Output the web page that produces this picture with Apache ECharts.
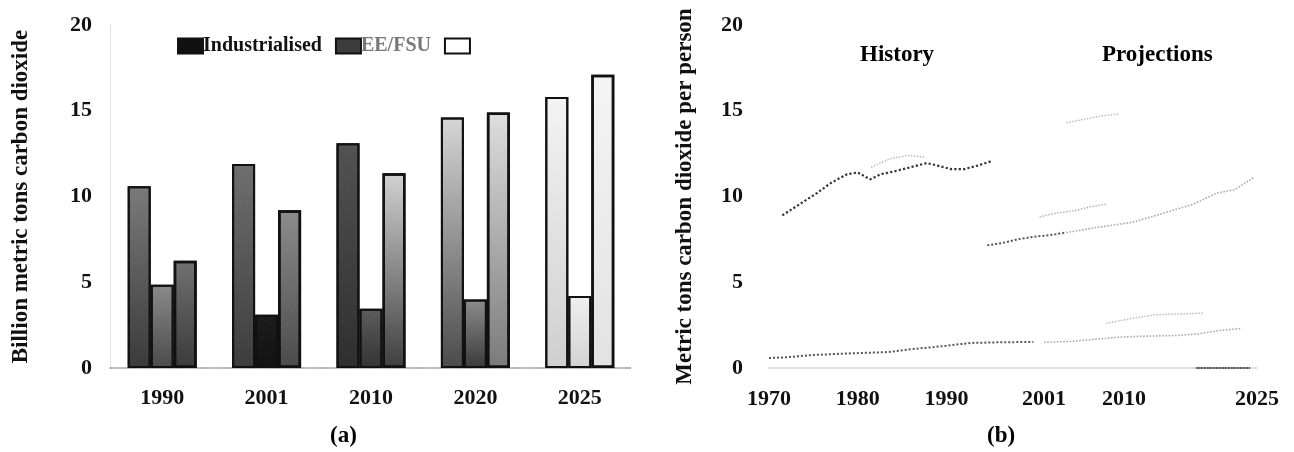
<!DOCTYPE html>
<html><head><meta charset="utf-8">
<script src="https://cdn.jsdelivr.net/npm/echarts@6/dist/echarts.min.js"></script>
<style>html,body{margin:0;padding:0;background:#fff}#c{width:1294px;height:452px}</style>
</head><body><div id="c"></div>
<script>
// ---------- DATA ----------
const barYears = ['1990', '2001', '2010', '2020', '2025'];
const industrialised = [10.6, 11.9, 13.1, 14.6, 15.8];
const eefsu = [4.85, 3.1, 3.45, 4.0, 4.2];
const thirdGroup = [6.25, 9.2, 11.35, 14.9, 17.1];
const yTicks = [0, 5, 10, 15, 20];
const lineYearLabels = [1970, 1980, 1990, 2001, 2010, 2025];

const indHistory = [[1971.5,8.9],[1973,9.4],[1975.4,10.2],[1977,10.8],[1978.8,11.3],[1980,11.4],[1981.4,11.0],[1982.6,11.3],[1984,11.45],[1985.9,11.7],[1987.8,11.95],[1989,11.8],[1990.5,11.6],[1992,11.6],[1993.5,11.8],[1995,12.05]];
const indUpperFaint = [[1981.5,11.7],[1983.6,12.2],[1985.6,12.4],[1987.5,12.3]];
const eeHistory = [[1994.6,7.15],[1996.4,7.3],[1998,7.5],[1999.8,7.65],[2001.7,7.75],[2003.5,7.9]];
const eeProjection = [[2003.5,7.9],[2007,8.2],[2011,8.5],[2014.3,9.0],[2017.8,9.55],[2020.5,10.2],[2022.5,10.4],[2024.6,11.1]];
const midProjection = [[2000.5,8.8],[2002,9.0],[2004.7,9.2],[2006.2,9.4],[2008,9.55]];
const topProjection = [[2003.5,14.3],[2005.5,14.5],[2007.5,14.7],[2009.5,14.8]];
const devHistory = [[1970,0.58],[1972,0.63],[1975,0.76],[1979,0.85],[1983.5,0.93],[1986,1.1],[1988.6,1.22],[1990,1.3],[1992.7,1.46],[1996,1.5],[1999.8,1.52]];
const devProjection = [[2001,1.5],[2004,1.55],[2009.5,1.8],[2012,1.85],[2016,1.9],[2018.5,2.0],[2021,2.2],[2023.2,2.3]];
const otherProjection = [[2008,2.6],[2011,2.9],[2013.5,3.1],[2019,3.2]];

// ---------- STYLE ----------
const FONT = 'Liberation Serif';
const shades = [
  [['#7a7a7a','#3a3a3a'],['#6e6e6e','#3c3c3c'],['#525252','#2e2e2e'],['#d6d6d6','#4a4a4a'],['#f3f3f3','#cfcfcf']],
  [['#8a8a8a','#4a4a4a'],['#1c1c1c','#121212'],['#5c5c5c','#333333'],['#8c8c8c','#3a3a3a'],['#efefef','#d2d2d2']],
  [['#707070','#3a3a3a'],['#8c8c8c','#4a4a4a'],['#d2d2d2','#3e3e3e'],['#dedede','#7a7a7a'],['#f4f4f4','#e2e2e2']]
];
const speckle = {symbol: 'rect', symbolSize: 0.6, color: 'rgba(255,255,255,0.22)', dashArrayX: [1, 3], dashArrayY: [1, 4], rotation: 0.6};
function grad(c) {
  return new echarts.graphic.LinearGradient(0, 0, 0, 1, [{offset: 0, color: c[0]}, {offset: 1, color: c[1]}]);
}
function barData(vals, si) {
  return vals.map((v, i) => ({value: v, itemStyle: {color: grad(shades[si][i]), decal: speckle}}));
}
function lineSeries(name, data, color, width) {
  return {
    name: name, type: 'line', xAxisIndex: 1, yAxisIndex: 1, data: data,
    showSymbol: false, smooth: false, silent: true,
    lineStyle: {color: color, width: width, type: 'dotted'}
  };
}
const txt = {fontFamily: FONT, fontWeight: 'bold', fontSize: 22, color: '#111'};

const chart = echarts.init(document.getElementById('c'), null, {renderer: 'canvas'});
chart.setOption({
  animation: false,
  backgroundColor: '#fff',
  grid: [
    {left: 110, top: 25, width: 522, height: 343},
    {left: 769, top: 25, width: 488, height: 343}
  ],
  legend: {
    left: 172, top: 31, itemWidth: 25, itemHeight: 15, itemGap: 13, icon: 'rect',
    textStyle: {fontFamily: FONT, fontWeight: 'bold', fontSize: 20, color: '#111', padding: [0, 0, 0, -5]},
    data: [
      {name: 'Industrialised'},
      {name: 'EE/FSU', textStyle: {color: '#777'}},
      {name: ' '}
    ]
  },
  xAxis: [
    {
      type: 'category', gridIndex: 0, data: barYears,
      axisLine: {lineStyle: {color: '#999', type: 'dotted', width: 1.5}},
      axisTick: {show: false},
      axisLabel: Object.assign({margin: 19}, txt)
    },
    {
      type: 'value', gridIndex: 1, min: 1970, max: 2025, offset: 5,
      axisLine: {lineStyle: {width: 1.5, type: 'dotted',
        color: new echarts.graphic.LinearGradient(0, 0, 1, 0, [
          {offset: 0, color: '#cfcfcf'}, {offset: 0.87, color: '#cfcfcf'},
          {offset: 0.871, color: '#222'}, {offset: 0.98, color: '#222'},
          {offset: 0.981, color: '#cfcfcf'}, {offset: 1, color: '#cfcfcf'}])}},
      axisTick: {show: false},
      splitLine: {show: false},
      axisLabel: Object.assign({margin: 15, customValues: lineYearLabels, formatter: v => String(v)}, txt)
    }
  ],
  yAxis: [
    {
      type: 'value', gridIndex: 0, min: 0, max: 20, interval: 5,
      name: 'Billion metric tons carbon dioxide', nameLocation: 'middle', nameGap: 77,
      nameTextStyle: {fontFamily: FONT, fontWeight: 'bold', fontSize: 23, color: '#111'},
      axisLine: {show: true, lineStyle: {color: '#ddd', type: 'dotted'}},
      axisTick: {show: false},
      splitLine: {show: false},
      axisLabel: Object.assign({margin: 18}, txt)
    },
    {
      type: 'value', gridIndex: 1, min: 0, max: 20, interval: 5,
      name: 'Metric tons carbon dioxide per person', nameLocation: 'middle', nameGap: 72,
      nameTextStyle: {fontFamily: FONT, fontWeight: 'bold', fontSize: 23, color: '#111'},
      axisLine: {show: false},
      axisTick: {show: false},
      splitLine: {show: false},
      axisLabel: Object.assign({margin: 26}, txt)
    }
  ],
  graphic: [
    {type: 'text', left: 330, top: 425, style: Object.assign({text: '(a)'}, txt, {fontSize: 23})},
    {type: 'text', left: 987, top: 425, style: Object.assign({text: '(b)'}, txt, {fontSize: 23})},
    {type: 'text', left: 860, top: 44, style: Object.assign({text: 'History'}, txt, {fontSize: 23})},
    {type: 'text', left: 1102, top: 44, style: Object.assign({text: 'Projections'}, txt, {fontSize: 23})}
  ],
  series: [
    {name: 'Industrialised', type: 'bar', xAxisIndex: 0, yAxisIndex: 0, barWidth: 23, barGap: '0%',
     itemStyle: {color: '#111', borderColor: '#111', borderWidth: 2}, data: barData(industrialised, 0)},
    {name: 'EE/FSU', type: 'bar', xAxisIndex: 0, yAxisIndex: 0, barWidth: 23, barGap: '0%',
     itemStyle: {color: '#3c3c3c', borderColor: '#111', borderWidth: 2}, data: barData(eefsu, 1)},
    {name: ' ', type: 'bar', xAxisIndex: 0, yAxisIndex: 0, barWidth: 23, barGap: '0%',
     itemStyle: {color: '#fff', borderColor: '#111', borderWidth: 2.5}, data: barData(thirdGroup, 2)},
    lineSeries('indHistory', indHistory, '#333', 2.2),
    lineSeries('indUpperFaint', indUpperFaint, '#bbb', 1.5),
    lineSeries('eeHistory', eeHistory, '#555', 2),
    lineSeries('eeProjection', eeProjection, '#aaa', 1.6),
    lineSeries('midProjection', midProjection, '#b5b5b5', 1.5),
    lineSeries('topProjection', topProjection, '#bbb', 1.5),
    lineSeries('devHistory', devHistory, '#555', 2),
    lineSeries('devProjection', devProjection, '#aaa', 1.6),
    lineSeries('otherProjection', otherProjection, '#bbb', 1.5)
  ]
});
</script></body></html>
